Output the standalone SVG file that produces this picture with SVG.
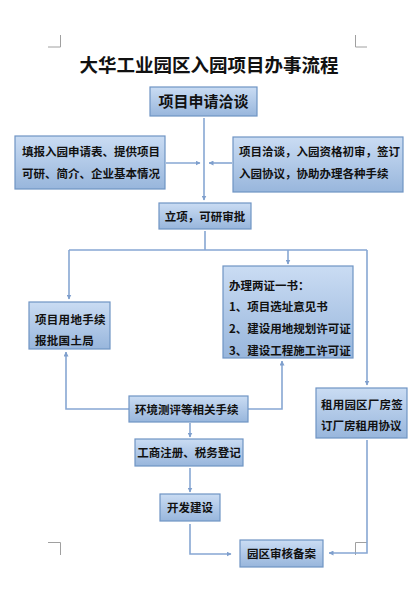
<svg xmlns="http://www.w3.org/2000/svg" width="418" height="593" viewBox="0 0 418 593">
<defs>
<linearGradient id="g" x1="0" y1="0" x2="0" y2="1">
<stop offset="0" stop-color="#cadcf3"/>
<stop offset="1" stop-color="#98b6dc"/>
</linearGradient>
<marker id="ah" viewBox="0 0 10 10" refX="9" refY="5" markerWidth="5" markerHeight="5" orient="auto" markerUnits="userSpaceOnUse">
<path d="M0,0 L10,5 L0,10 z" fill="#7f9fcd"/>
</marker>
<style>
.box{fill:url(#g);stroke:#6f94c4;stroke-width:1.2}
.t{font-family:"Noto Sans CJK SC","Noto Sans CJK JP",sans-serif;font-weight:bold;fill:#111}
.s{font-size:11.5px}
.c{fill:none;stroke:#87a7d3;stroke-width:1.6}
.m{fill:none;stroke:#a0a0a0;stroke-width:1}
</style>
</defs>
<rect width="418" height="593" fill="#fff"/>
<g id="corners">
<path class="m" d="M48,47 H60.5 V35 M367,47 H355.5 V35 M48,542.5 H60.5 V555 M367,542.5 H355.5 V555"/>
</g>
<text class="t" x="209" y="72" font-size="18.5" text-anchor="middle">大华工业园区入园项目办事流程</text>
<g id="connectors">
<path class="c" d="M204,118 V200" marker-end="url(#ah)"/>
<path class="c" d="M166,163 H200" marker-end="url(#ah)"/>
<path class="c" d="M232,163 H209" marker-end="url(#ah)"/>
<path class="c" d="M205,231 V250 M69,250 H367"/>
<path class="c" d="M69,250 V299" marker-end="url(#ah)"/>
<path class="c" d="M288,250 V264" marker-end="url(#ah)"/>
<path class="c" d="M367,250 V385" marker-end="url(#ah)"/>
<path class="c" d="M129,409 H66 V352" marker-end="url(#ah)"/>
<path class="c" d="M248,409 H282 V361" marker-end="url(#ah)"/>
<path class="c" d="M190,423 V437" marker-end="url(#ah)"/>
<path class="c" d="M190,468 V492" marker-end="url(#ah)"/>
<path class="c" d="M190,524 V554 H231" marker-end="url(#ah)"/>
<path class="c" d="M367,440 V553 H329" marker-end="url(#ah)"/>
</g>
<g id="n1"><rect class="box" x="150" y="87" width="107" height="29"/><text class="t" x="203.5" y="107" font-size="15" text-anchor="middle">项目申请洽谈</text></g>
<g id="n2"><rect class="box" x="15" y="136" width="150" height="53"/><text class="t s" x="22" y="156">填报入园申请表、提供项目</text><text class="t s" x="22" y="178">可研、简介、企业基本情况</text></g>
<g id="n3"><rect class="box" x="233" y="137" width="170" height="55"/><text class="t s" x="239" y="156">项目洽谈，入园资格初审，签订</text><text class="t s" x="239" y="178">入园协议，协助办理各种手续</text></g>
<g id="n4"><rect class="box" x="159" y="203" width="92" height="26"/><text class="t s" x="205" y="221" text-anchor="middle">立项，可研审批</text></g>
<g id="n5"><rect class="box" x="29" y="302" width="81" height="47"/><text class="t s" x="35" y="324" letter-spacing="0.3">项目用地手续</text><text class="t s" x="35" y="345" letter-spacing="0.3">报批国土局</text></g>
<g id="n6"><rect class="box" x="223" y="266" width="130" height="92"/><text class="t s" x="229" y="290">办理两证一书：</text><text class="t s" x="229" y="311">1、项目选址意见书</text><text class="t s" x="229" y="333">2、建设用地规划许可证</text><text class="t s" x="229" y="355">3、建设工程施工许可证</text></g>
<g id="n7"><rect class="box" x="129" y="396" width="119" height="26"/><text class="t s" x="135" y="414">环境测评等相关手续</text></g>
<g id="n8"><rect class="box" x="316" y="388" width="91" height="50"/><text class="t s" x="321" y="409" letter-spacing="0.2">租用园区厂房签</text><text class="t s" x="321" y="430">订厂房租用协议</text></g>
<g id="n9"><rect class="box" x="135" y="439" width="108" height="27"/><text class="t s" x="189" y="457" text-anchor="middle">工商注册、税务登记</text></g>
<g id="n10"><rect class="box" x="160" y="494" width="60" height="27"/><text class="t s" x="190" y="512" text-anchor="middle">开发建设</text></g>
<g id="n11"><rect class="box" x="240" y="540" width="83" height="27"/><text class="t s" x="281.5" y="558" text-anchor="middle">园区审核备案</text></g>
</svg>
